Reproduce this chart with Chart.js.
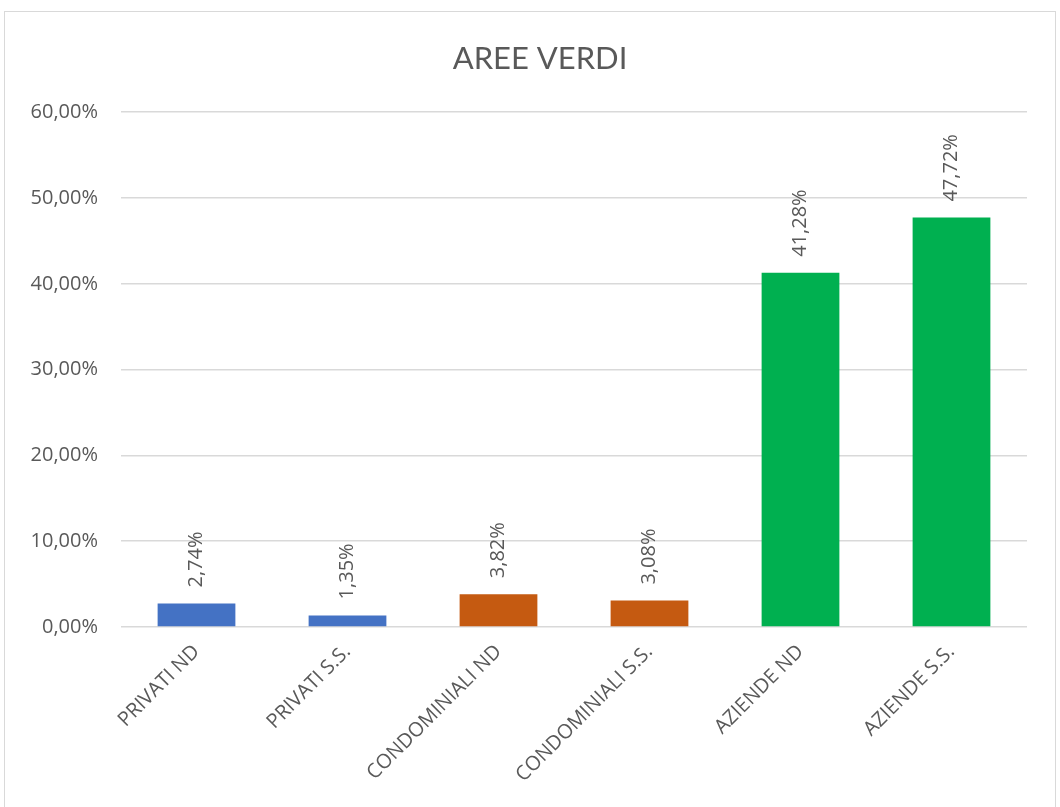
<!DOCTYPE html>
<html>
<head>
<meta charset="utf-8">
<script src="https://cdn.jsdelivr.net/npm/chart.js@4"></script>
<style>
    body { margin: 0; background: #fff; }
    .box { position: absolute; left: 4px; top: 11px; width: 1052px; height: 800px; border: 1px solid #d9d9d9; box-sizing: border-box; }
</style>
</head>
<body>
<div class="box"><canvas id="aree"></canvas></div>
<script>
// Donnees
const categories = ['PRIVATI ND', 'PRIVATI S.S.', 'CONDOMINIALI ND', 'CONDOMINIALI S.S.', 'AZIENDE ND', 'AZIENDE S.S.'];
const valori = [2.74, 1.35, 3.82, 3.08, 41.28, 47.72];
const colori = ['#4472C4', '#4472C4', '#C55A11', '#C55A11', '#00B050', '#00B050'];
const yTicks = [0, 10, 20, 30, 40, 50, 60];

const grigio = '#595959';
const fmt = (v) => v.toFixed(2).replace('.', ',') + '%';

// etichette ruotate sopra le barre
const etichette = {
    id: 'etichette',
    afterDatasetsDraw(chart) {
        const ctx = chart.ctx;
        const meta = chart.getDatasetMeta(0);
        ctx.save();
        ctx.fillStyle = grigio;
        ctx.font = '20px "Open Sans"';
        ctx.textAlign = 'left';
        ctx.textBaseline = 'middle';
        meta.data.forEach((bar, i) => {
            ctx.save();
            ctx.translate(bar.x, bar.y - 16);
            ctx.rotate(-Math.PI / 2);
            ctx.fillText(fmt(valori[i]), 0, 0);
            ctx.restore();
        });
        ctx.restore();
    }
};

let chart = new Chart(document.getElementById('aree'), {
    type: 'bar',
    data: {
        labels: categories,
        datasets: [{
            data: valori,
            backgroundColor: colori,
            borderWidth: 0,
            categoryPercentage: 1,
            barPercentage: 0.515
        }]
    },
    options: {
        responsive: true,
        maintainAspectRatio: false,
        animation: false,
        layout: { padding: { top: 0, right: 0, bottom: 0, left: 20 } },
        plugins: {
            legend: { display: false },
            tooltip: { enabled: false },
            title: {
                display: true,
                text: 'AREE VERDI',
                color: grigio,
                font: { family: 'Lato', size: 31, weight: 'normal' },
                padding: { top: 28, bottom: 35 }
            }
        },
        scales: {
            x: {
                grid: { display: false, drawTicks: false },
                border: { display: false },
                ticks: {
                    color: grigio,
                    font: { family: 'Open Sans', size: 20 },
                    minRotation: 45,
                    maxRotation: 45,
                    padding: 13,
                    autoSkip: false
                },
                afterFit: (scale) => { scale.height = 183; }
            },
            y: {
                min: 0,
                max: 60,
                afterBuildTicks: (scale) => { scale.ticks = yTicks.map(v => ({ value: v })); },
                grid: { color: '#d9d9d9', lineWidth: 1.5, drawTicks: false },
                border: { display: false },
                ticks: {
                    color: grigio,
                    font: { family: 'Open Sans', size: 20 },
                    padding: 23,
                    callback: (v) => fmt(v)
                },
                afterFit: (scale) => { scale.width = 96; }
            },
            // margine destro vuoto
            destra: {
                type: 'linear',
                position: 'right',
                grid: { display: false, drawTicks: false },
                border: { display: false },
                ticks: { display: false },
                afterFit: (scale) => { scale.width = 28; }
            }
        }
    },
    plugins: [etichette]
});
</script>
</body>
</html>
